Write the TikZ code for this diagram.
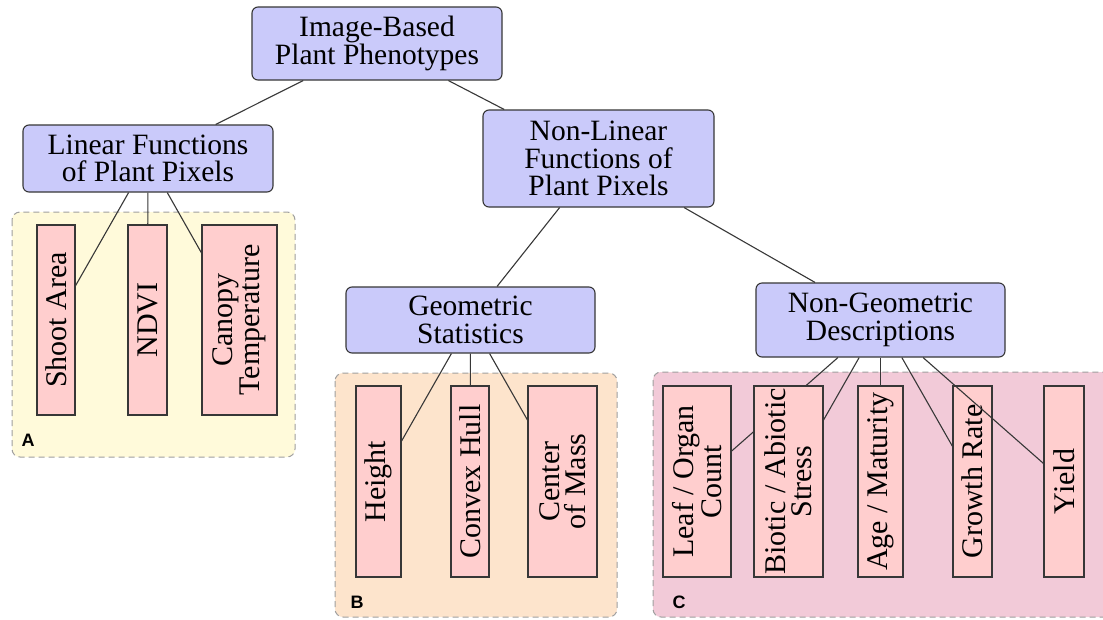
\documentclass[tikz,border=0pt]{standalone}
\usepackage{fontspec}
\setmainfont{Liberation Serif}
\newfontfamily\labelfont{Liberation Sans}
\definecolor{nodeblue}{RGB}{202,202,250}
\definecolor{leafpink}{RGB}{255,206,206}
\definecolor{grpA}{RGB}{255,250,218}
\definecolor{grpB}{RGB}{253,228,204}
\definecolor{grpC}{RGB}{242,202,216}
\definecolor{linegray}{RGB}{55,55,55}
\begin{document}
\begin{tikzpicture}[x=1pt,y=-1pt,
  catbox/.style={draw=linegray, fill=nodeblue, rounded corners=6pt, line width=1.1pt,
    align=center, inner sep=2pt, font=\fontsize{29.5}{27.5}\selectfont},
  leafbox/.style={draw=linegray, fill=leafpink, line width=1.1pt, align=center, rotate=90,
    inner sep=2pt, minimum width=190pt, font=\fontsize{30}{26}\selectfont},
  groupbox/.style={draw=gray!75, line width=1pt, rounded corners=8pt, dash pattern=on 6pt off 4pt},
  link/.style={draw=linegray, line width=1.1pt},
  grouplabel/.style={font=\labelfont\bfseries\fontsize{18}{18}\selectfont, inner sep=0pt}
]
\clip (0,0) rectangle (1103,619);
\fill[white] (0,0) rectangle (1103,619);

% group backgrounds
\draw[groupbox, fill=grpA] (12,212) rectangle (295,457);
\draw[groupbox, fill=grpB] (335,373) rectangle (617,617);
\draw[groupbox, fill=grpC] (653,372) rectangle (1115,617);
\node[grouplabel] (labA) at (28,440) {A};
\node[grouplabel] (labB) at (357,602) {B};
\node[grouplabel] (labC) at (679,602) {C};

% category nodes
\node[catbox, minimum width=250pt, minimum height=73pt] (root) at (377,43.5) {Image-Based\\Plant Phenotypes};
\node[catbox, minimum width=250pt, minimum height=67pt] (lin) at (148,158.5) {Linear Functions\\of Plant Pixels};
\node[catbox, minimum width=231pt, minimum height=97pt] (nonlin) at (598.5,158.5) {Non-Linear\\Functions of\\Plant Pixels};
\node[catbox, minimum width=249pt, minimum height=66pt] (geo) at (470.5,320) {Geometric\\Statistics};
\node[catbox, minimum width=249pt, minimum height=74pt] (nongeo) at (880.5,320) {Non-Geometric\\Descriptions};

\draw[link] (root) -- (lin);
\draw[link] (root) -- (nonlin);
\draw[link] (nonlin) -- (geo);
\draw[link] (nonlin) -- (nongeo);

% group A
\node[leafbox, minimum height=38pt] (shoot) at (56,320) {Shoot Area};
\draw[link] (lin) -- (shoot);
\node[leafbox, minimum height=39pt] (ndvi) at (147.5,320) {NDVI};
\draw[link] (lin) -- (ndvi);
\node[leafbox, minimum height=75pt] (canopy) at (239.5,320) {Canopy\\Temperature};
\draw[link] (lin) -- (canopy);

% group B
\node[leafbox, minimum height=45pt, minimum width=191pt] (height) at (378.5,481.5) {Height};
\draw[link] (geo) -- (height);
\node[leafbox, minimum height=38pt, minimum width=191pt] (hull) at (470,481.5) {Convex Hull};
\draw[link] (geo) -- (hull);
\node[leafbox, minimum height=69pt, minimum width=191pt] (mass) at (562.5,481.5) {Center\\of Mass};
\draw[link] (geo) -- (mass);

% group C
\node[leafbox, minimum height=68pt, minimum width=191pt] (leaf) at (697,481.5) {Leaf / Organ\\Count};
\draw[link] (nongeo) -- (leaf);
\node[leafbox, minimum height=69pt, minimum width=191pt] (stress) at (788.5,481.5) {Biotic / Abiotic\\Stress};
\draw[link] (nongeo) -- (stress);
\node[leafbox, minimum height=45pt, minimum width=191pt] (age) at (880.5,481.5) {Age / Maturity};
\draw[link] (nongeo) -- (age);
\node[leafbox, minimum height=39pt, minimum width=191pt] (growth) at (972.5,481.5) {Growth Rate};
\draw[link] (nongeo) -- (growth);
\node[leafbox, minimum height=40pt, minimum width=191pt] (yield) at (1064,481.5) {Yield};
\draw[link] (nongeo) -- (yield);
\end{tikzpicture}
\end{document}
